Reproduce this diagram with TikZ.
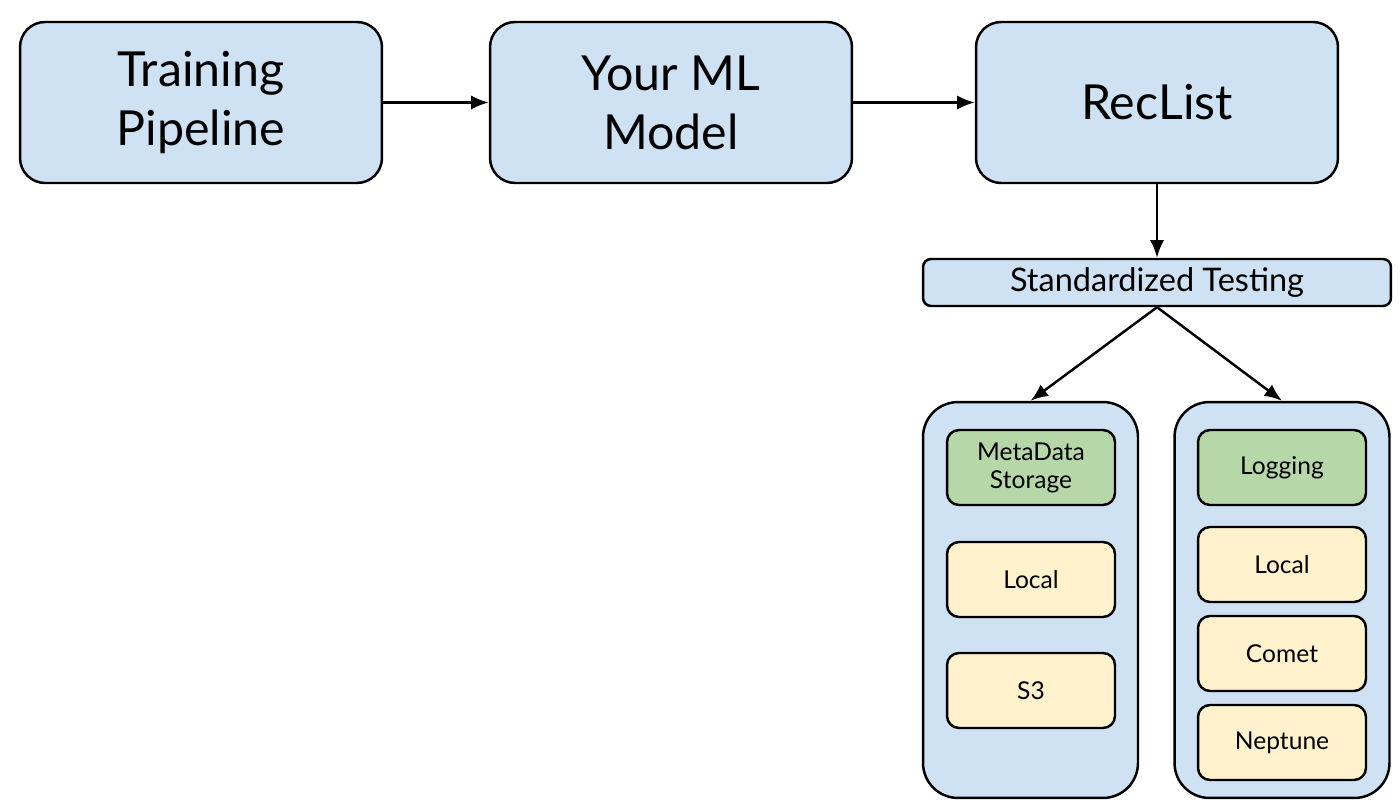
\documentclass[tikz,border=0pt]{standalone}
\usepackage{fontspec}
\setmainfont{Lato}
\usetikzlibrary{arrows.meta}

\definecolor{boxblue}{HTML}{CFE2F3}
\definecolor{boxgreen}{HTML}{B6D7A8}
\definecolor{boxyellow}{HTML}{FFF2CC}

\begin{document}
\begin{tikzpicture}[x=0.02cm, y=-0.02cm, line width=1.4pt,
    bigbox/.style={draw=black, fill=boxblue, rounded corners=0.5cm, minimum width=7.24cm, minimum height=3.22cm, align=center, font={\fontsize{27.5}{33.5}\selectfont}},
    testbox/.style={draw=black, fill=boxblue, rounded corners=0.16cm, minimum width=9.36cm, minimum height=0.94cm, font={\fontsize{18.5}{22}\selectfont}},
    groupbox/.style={draw=black, fill=boxblue, rounded corners=0.7cm, minimum width=4.3cm, minimum height=7.92cm},
    headbox/.style={draw=black, fill=boxgreen, rounded corners=0.24cm, minimum width=3.36cm, minimum height=1.5cm, align=center, font={\fontsize{14}{16}\selectfont}},
    itembox/.style={draw=black, fill=boxyellow, rounded corners=0.24cm, minimum width=3.36cm, minimum height=1.5cm, font={\fontsize{14}{16}\selectfont}},
    arrow/.style={-{Latex[length=10pt, width=8pt]}}]
        \useasboundingbox (0, 0) rectangle (1400, 804);
        % top row
        \node[bigbox] (train) at (201, 102.5) {Training\\Pipeline};
        \node[bigbox] (model) at (671, 102.5) {Your ML\\Model};
        \node[bigbox] (reclist) at (1157, 102.5) {RecList};
        \node[testbox] (testing) at (1157, 282.5) {Standardized Testing};
        % groups
        \node[groupbox] (meta) at (1030.5, 600) {};
        \node[groupbox] (log) at (1282, 600) {};
        \node[headbox] (metahead) at (1031, 467.5) {MetaData\\Storage};
        \node[itembox] (metalocal) at (1031, 579.5) {Local};
        \node[itembox] (metas3) at (1031, 690.5) {S3};
        \node[headbox] (loghead) at (1282, 467.5) {Logging};
        \node[itembox] (loglocal) at (1282, 564.5) {Local};
        \node[itembox] (logcomet) at (1282, 653.5) {Comet};
        \node[itembox] (logneptune) at (1282, 742.5) {Neptune};
        % connectors
        \draw[arrow] (train) -- (model);
        \draw[arrow] (model) -- (reclist);
        \draw[arrow] (reclist.south) -- (testing.north);
        \draw[arrow] (testing.south) -- (meta.north);
        \draw[arrow] (testing.south) -- (log.north);
    \end{tikzpicture}
\end{document}
